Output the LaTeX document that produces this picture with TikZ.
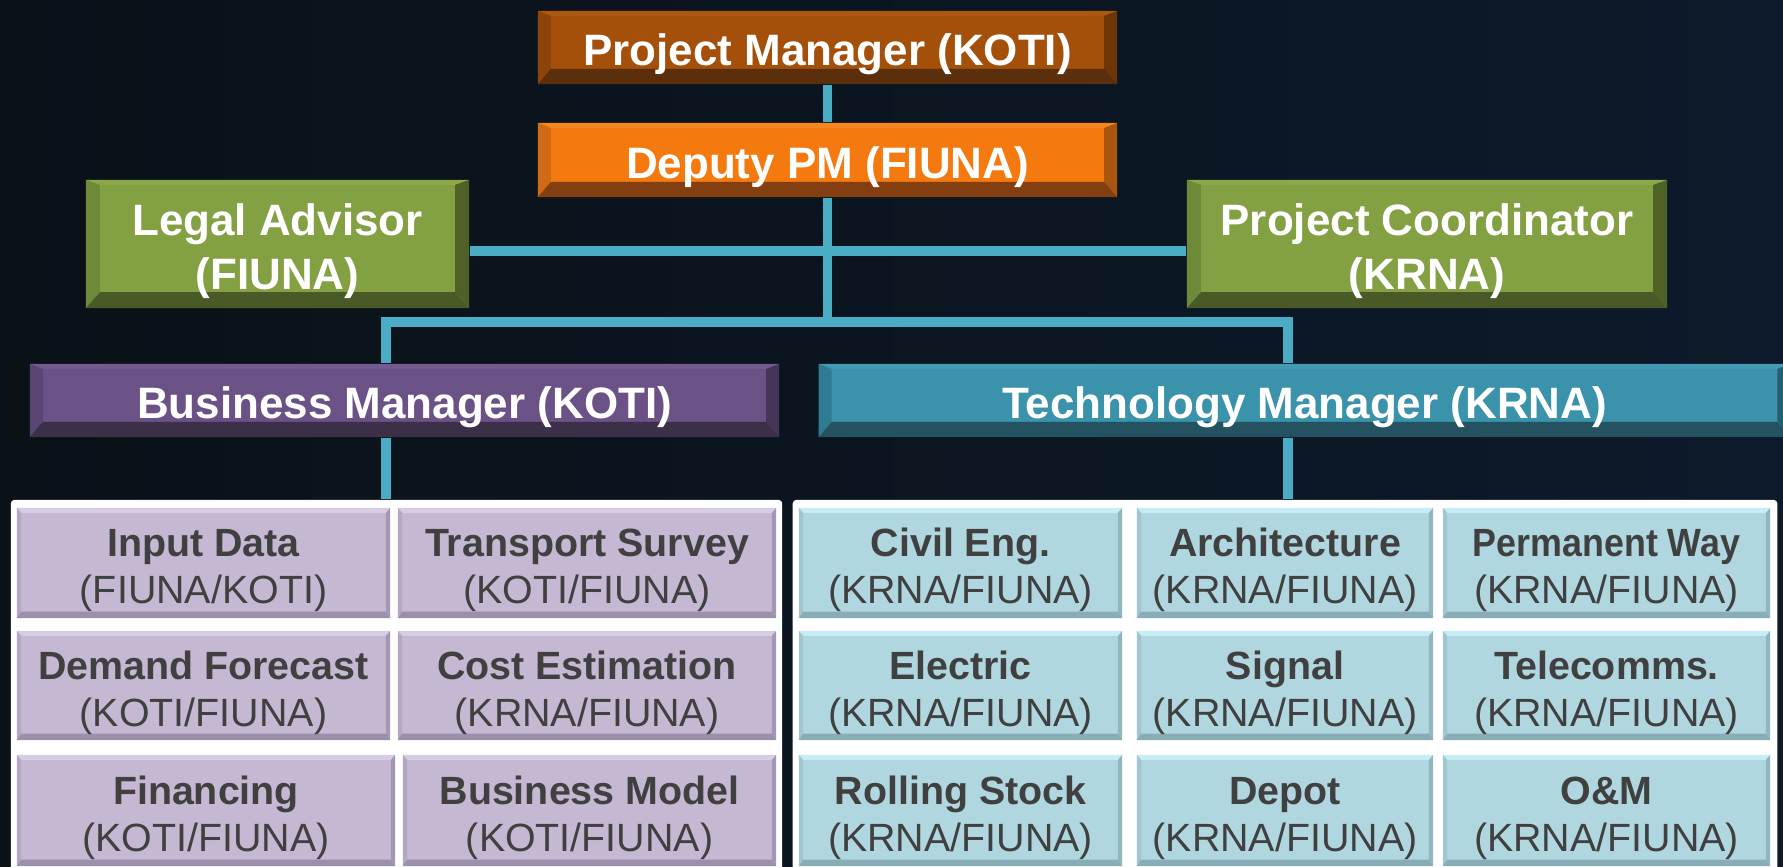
\documentclass[tikz,border=0pt]{standalone}
\usepackage{fontspec}
\setmainfont{Liberation Sans}
\usepackage{xcolor}
\usepackage{graphicx}
\usetikzlibrary{positioning}

\definecolor{bgleft}{HTML}{0A1117}
\definecolor{bgright}{HTML}{0D1A2B}
\definecolor{linkblue}{HTML}{4BACC6}
\definecolor{celltext}{HTML}{404040}
% header colours: main / top / left / right / bottom
\definecolor{pmmain}{HTML}{A4500A}\definecolor{pmtop}{HTML}{AC5810}\definecolor{pmleft}{HTML}{8C4408}\definecolor{pmright}{HTML}{6E3507}\definecolor{pmbot}{HTML}{5B2E0C}
\definecolor{dpmain}{HTML}{F47A10}\definecolor{dptop}{HTML}{F58620}\definecolor{dpleft}{HTML}{D06A14}\definecolor{dpright}{HTML}{A8560F}\definecolor{dpbot}{HTML}{833F10}
\definecolor{grmain}{HTML}{83A043}\definecolor{grtop}{HTML}{8BA84B}\definecolor{grleft}{HTML}{6E8A38}\definecolor{grright}{HTML}{4E6228}\definecolor{grbot}{HTML}{4A5A26}
\definecolor{bmmain}{HTML}{6A5186}\definecolor{bmtop}{HTML}{735A8F}\definecolor{bmleft}{HTML}{5A4573}\definecolor{bmright}{HTML}{453658}\definecolor{bmbot}{HTML}{3C3048}
\definecolor{tmmain}{HTML}{3A92AB}\definecolor{tmtop}{HTML}{429AB3}\definecolor{tmleft}{HTML}{2F7C92}\definecolor{tmright}{HTML}{255F70}\definecolor{tmbot}{HTML}{245260}
\definecolor{lvmain}{HTML}{C4B8D2}\definecolor{lvtop}{HTML}{D6CCE3}\definecolor{lvleft}{HTML}{B3A7C2}\definecolor{lvright}{HTML}{A397B3}\definecolor{lvbot}{HTML}{9B8FAB}
\definecolor{lbmain}{HTML}{B0D7E0}\definecolor{lbtop}{HTML}{C6ECF5}\definecolor{lbleft}{HTML}{A0C6CF}\definecolor{lbright}{HTML}{90B6BF}\definecolor{lbbot}{HTML}{89ADB6}

% first lines get a strut so that the text sits a little lower in its box
\newcommand{\headline}[1]{\rule{0pt}{13.1pt}#1}
\newcommand{\cellname}[1]{\rule{0pt}{12.2pt}\textbf{#1}}

\tikzset{
x=0.01cm, y=-0.01cm, % one unit is one pixel of the slide
bevel/.style n args={7}{fill=#1, inner sep=0pt, path picture={ % main, top, left, right, bottom, side width, bottom width
  \fill[#2] (path picture bounding box.north west) -- (path picture bounding box.north east)
    -- ([xshift=-#6,yshift=-1.4pt]path picture bounding box.north east) -- ([xshift=#6,yshift=-1.4pt]path picture bounding box.north west) -- cycle;
  \fill[#3] (path picture bounding box.north west) -- ([xshift=#6,yshift=-1.4pt]path picture bounding box.north west)
    -- ([xshift=#6,yshift=#7]path picture bounding box.south west) -- (path picture bounding box.south west) -- cycle;
  \fill[#4] (path picture bounding box.north east) -- ([xshift=-#6,yshift=-1.4pt]path picture bounding box.north east)
    -- ([xshift=-#6,yshift=#7]path picture bounding box.south east) -- (path picture bounding box.south east) -- cycle;
  \fill[#5] (path picture bounding box.south west) -- ([xshift=#6,yshift=#7]path picture bounding box.south west)
    -- ([xshift=-#6,yshift=#7]path picture bounding box.south east) -- (path picture bounding box.south east) -- cycle;
}},
head/.style={text=white, align=center, font=\bfseries\fontsize{12.5pt}{15.4pt}\selectfont},
pmbox/.style={head, bevel={pmmain}{pmtop}{pmleft}{pmright}{pmbot}{3.7pt}{4.3pt}},
dpmbox/.style={head, bevel={dpmain}{dptop}{dpleft}{dpright}{dpbot}{3.7pt}{4.3pt}},
greenbox/.style={head, bevel={grmain}{grtop}{grleft}{grright}{grbot}{4pt}{4.5pt}},
bmbox/.style={head, bevel={bmmain}{bmtop}{bmleft}{bmright}{bmbot}{3.7pt}{4.3pt}},
tmbox/.style={head, bevel={tmmain}{tmtop}{tmleft}{tmright}{tmbot}{3.7pt}{4.3pt}},
panel/.style={fill=white, rounded corners=1pt, inner sep=0pt},
cell/.style={text=celltext, align=center, font=\fontsize{11.2pt}{13.4pt}\selectfont},
lcell/.style={cell, bevel={lvmain}{lvtop}{lvleft}{lvright}{lvbot}{1.2pt}{1.8pt}},
rcell/.style={cell, bevel={lbmain}{lbtop}{lbleft}{lbright}{lbbot}{1.2pt}{1.8pt}},
link/.style={draw=linkblue, line width=2.6pt},
}

\begin{document}
\begin{tikzpicture}
\useasboundingbox (0,0) rectangle (1783,866);
\clip (0,0) rectangle (1783,866);
\fill[left color=bgleft, right color=bgright] (0,0) rectangle (1783,866);

% management
\node[pmbox, minimum width=5.79cm, minimum height=0.73cm] (pm) at (827.5,47.5) {\headline{Project Manager (KOTI)}};
\node[dpmbox, minimum width=5.79cm, minimum height=0.74cm] (dpm) at (827.5,160) {\headline{Deputy PM (FIUNA)}};
\node[greenbox, minimum width=3.83cm, minimum height=1.28cm] (legal) at (277.5,244) {\headline{Legal Advisor}\\(FIUNA)};
\node[greenbox, minimum width=4.80cm, minimum height=1.28cm] (coord) at (1427,244) {\headline{Project Coordinator}\\(KRNA)};
\node[bmbox, minimum width=7.49cm, minimum height=0.73cm] (bm) at (404.5,400.5) {\headline{Business Manager (KOTI)}};
\node[tmbox, minimum width=9.71cm, minimum height=0.73cm] (tm) at (1304.5,400.5) {\headline{Technology Manager (KRNA)}};

% work packages
\node[panel, minimum width=7.71cm, minimum height=3.70cm] (lpanel) at (396.5,685) {};
\node[panel, minimum width=9.84cm, minimum height=3.70cm] (rpanel) at (1285,685) {};

\node[lcell, minimum width=3.73cm, minimum height=1.10cm] (input) at (203.5,563) {\cellname{Input Data}\\(FIUNA/KOTI)};
\node[lcell, minimum width=3.78cm, minimum height=1.10cm] (survey) at (587,563) {\cellname{Transport Survey}\\(KOTI/FIUNA)};
\node[lcell, minimum width=3.73cm, minimum height=1.09cm] (demand) at (203.5,685.5) {\cellname{Demand Forecast}\\(KOTI/FIUNA)};
\node[lcell, minimum width=3.78cm, minimum height=1.09cm] (cost) at (587,685.5) {\cellname{Cost Estimation}\\(KRNA/FIUNA)};
\node[lcell, minimum width=3.78cm, minimum height=1.11cm] (financing) at (206,810.5) {\cellname{Financing}\\(KOTI/FIUNA)};
\node[lcell, minimum width=3.73cm, minimum height=1.11cm] (bmodel) at (589.5,810.5) {\cellname{Business Model}\\(KOTI/FIUNA)};

\node[rcell, minimum width=3.23cm, minimum height=1.10cm] (civil) at (960.5,563) {\cellname{Civil Eng.}\\(KRNA/FIUNA)};
\node[rcell, minimum width=2.96cm, minimum height=1.10cm] (arch) at (1285,563) {\cellname{Architecture}\\(KRNA/FIUNA)};
\node[rcell, minimum width=3.27cm, minimum height=1.10cm] (pway) at (1606.5,563) {\cellname{\scalebox{0.91}[1]{Permanent Way}}\\(KRNA/FIUNA)};
\node[rcell, minimum width=3.23cm, minimum height=1.09cm] (electric) at (960.5,685.5) {\cellname{Electric}\\(KRNA/FIUNA)};
\node[rcell, minimum width=2.96cm, minimum height=1.09cm] (signal) at (1285,685.5) {\cellname{Signal}\\(KRNA/FIUNA)};
\node[rcell, minimum width=3.27cm, minimum height=1.09cm] (telecom) at (1606.5,685.5) {\cellname{Telecomms.}\\(KRNA/FIUNA)};
\node[rcell, minimum width=3.23cm, minimum height=1.11cm] (rolling) at (960.5,810.5) {\cellname{Rolling Stock}\\(KRNA/FIUNA)};
\node[rcell, minimum width=2.96cm, minimum height=1.11cm] (depot) at (1285,810.5) {\cellname{Depot}\\(KRNA/FIUNA)};
\node[rcell, minimum width=3.27cm, minimum height=1.11cm] (om) at (1606.5,810.5) {\cellname{O\&M}\\(KRNA/FIUNA)};

% connectors
\coordinate (jl) at (386,322);
\coordinate (jr) at (1288,322);
\coordinate (mid) at (827,251);
\draw[link] (pm) -- (dpm);
\draw[link] (dpm.south) -- (dpm.south |- jl);
\draw[link] (legal.east |- mid) -- (coord.west |- mid);
\draw[link] (jl |- bm.north) -- (jl) -- (jr) -- (jr |- tm.north);
\draw[link] (jl |- bm.south) -- (jl |- lpanel.north);
\draw[link] (jr |- tm.south) -- (jr |- rpanel.north);
\end{tikzpicture}
\end{document}
